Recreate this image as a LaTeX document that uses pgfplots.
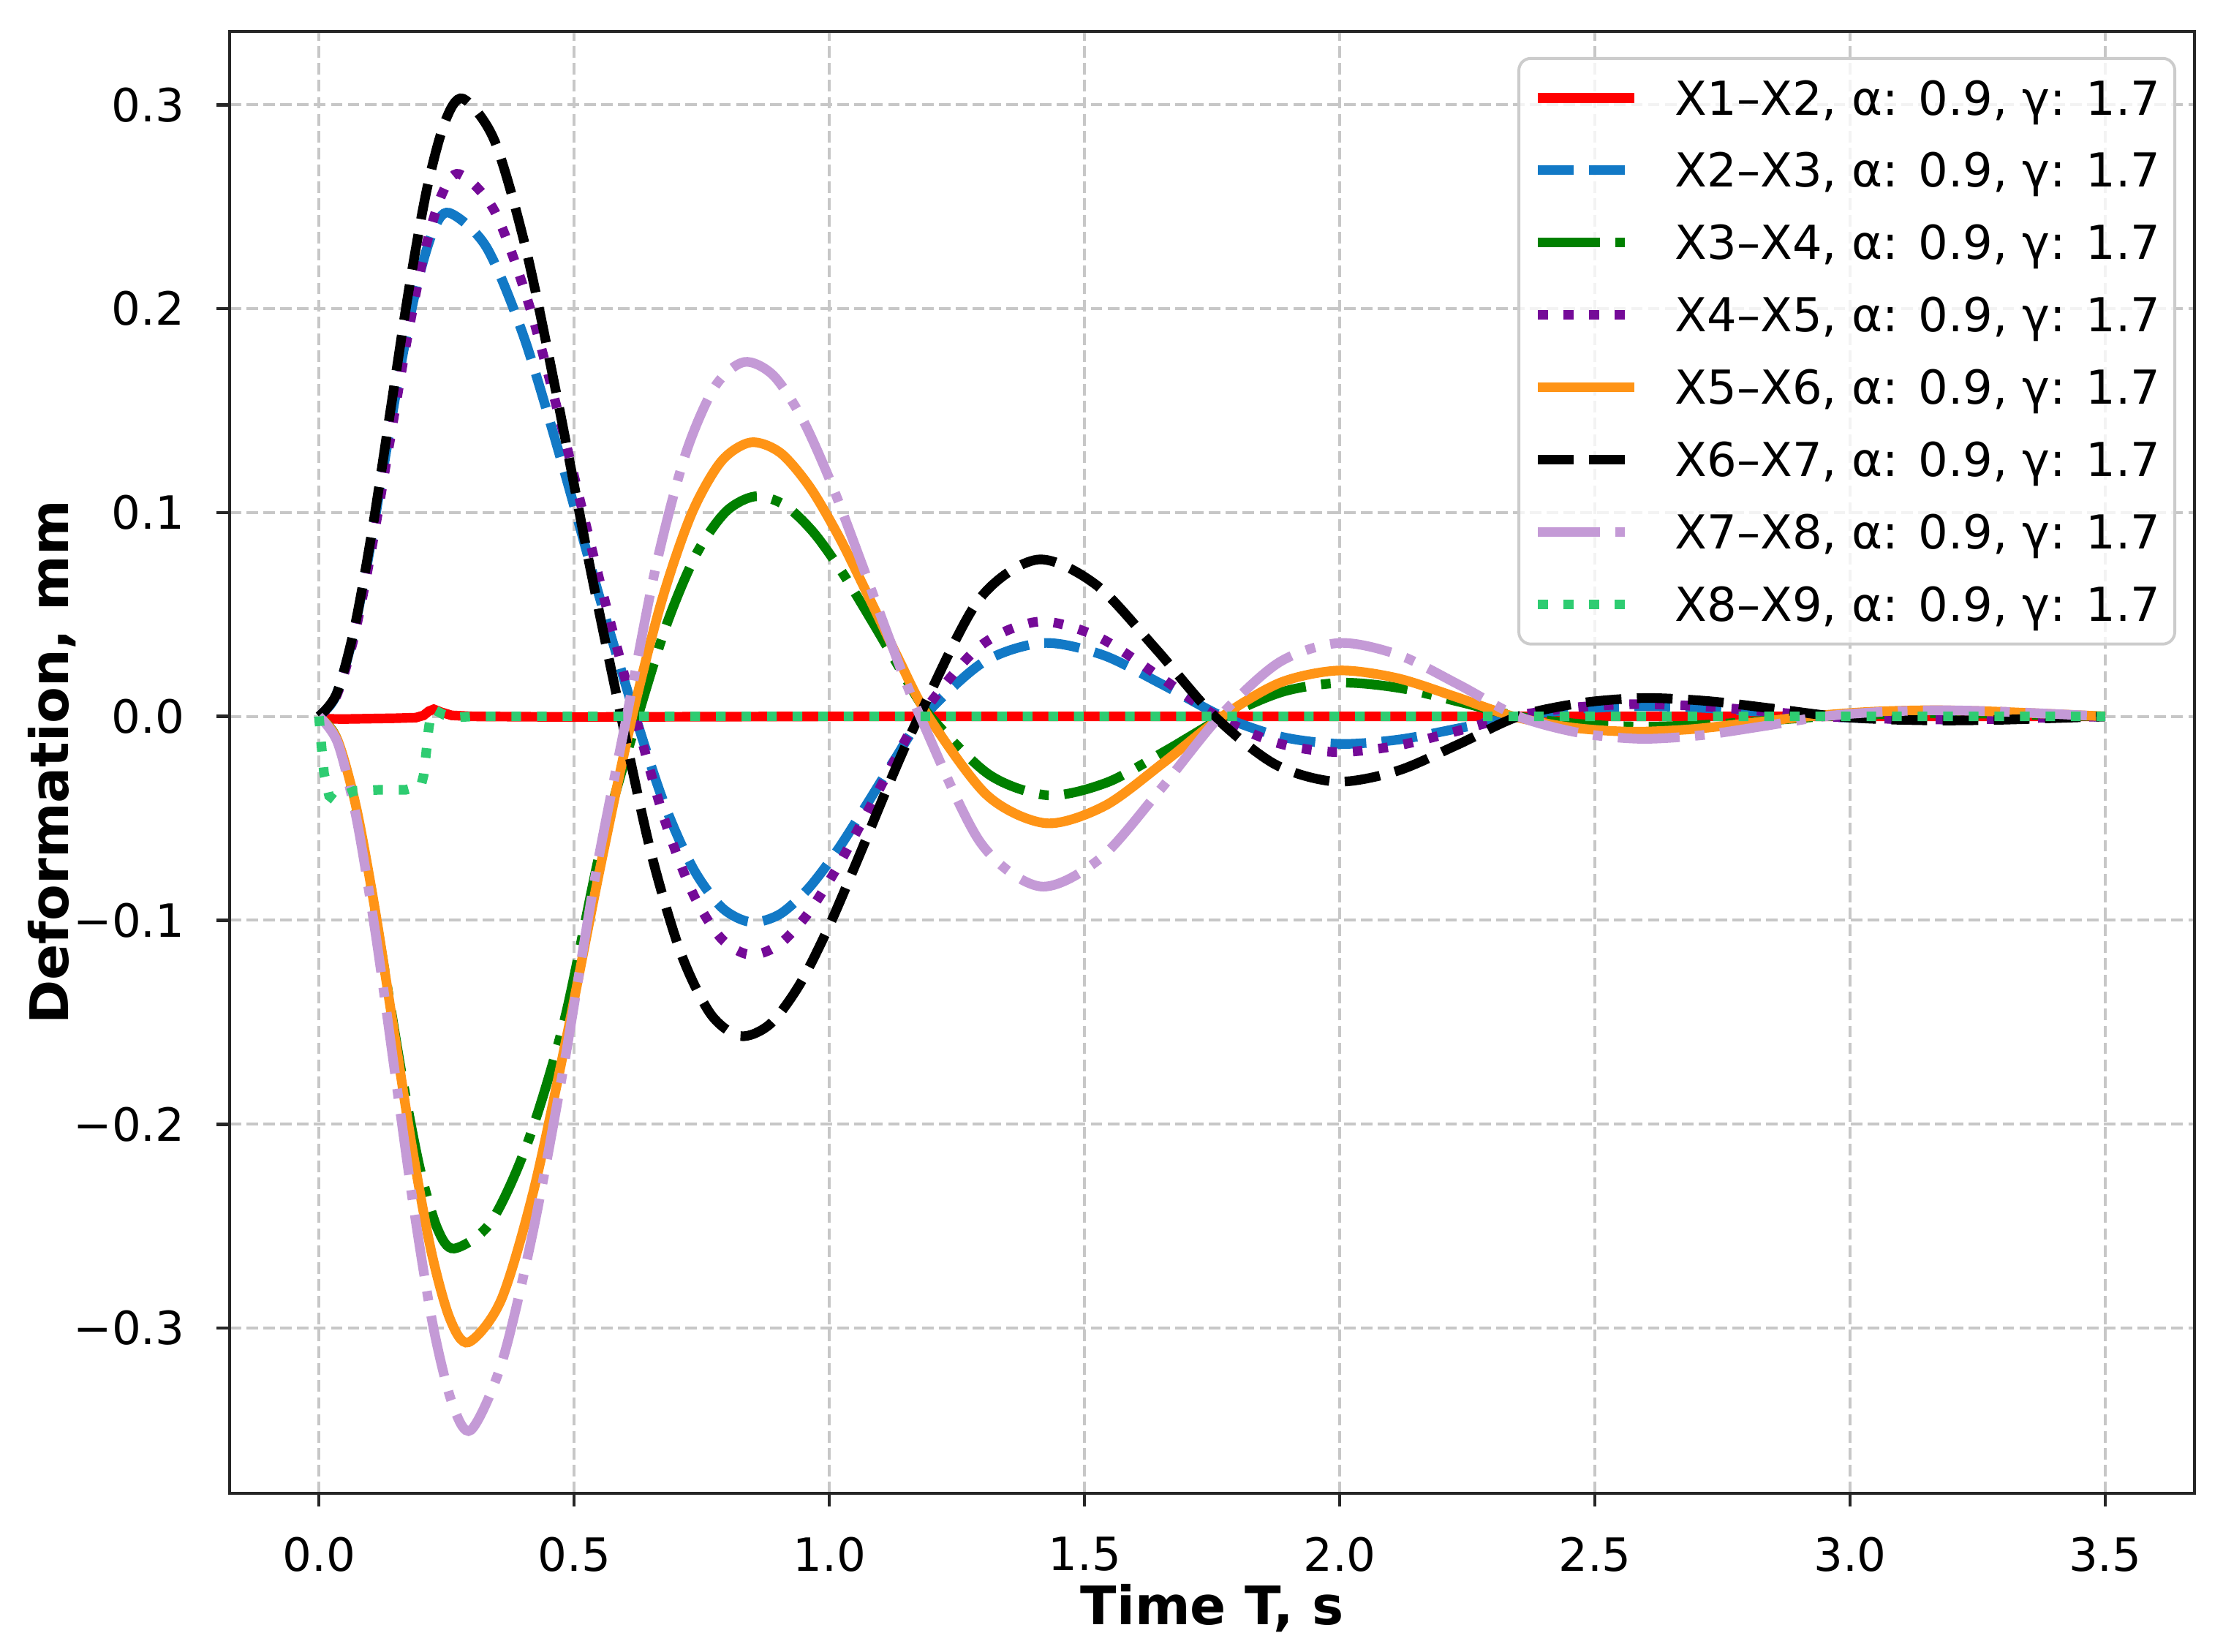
\documentclass[border=0pt]{standalone}
\usepackage{fontspec}
\setmainfont{DejaVu Sans}
\usepackage{pgfplots}
\pgfplotsset{compat=1.18}
\definecolor{cRed}{HTML}{FF0000}
\definecolor{cBlue}{HTML}{1279C6}
\definecolor{cGreen}{HTML}{008000}
\definecolor{cPurple}{HTML}{750A98}
\definecolor{cOrange}{HTML}{FF9416}
\definecolor{cPlum}{HTML}{C49AD6}
\definecolor{cLGreen}{HTML}{2ECC71}
\begin{document}
\begin{tikzpicture}
\useasboundingbox (-47.6pt,-32.9pt) rectangle (413.2pt,309.5pt);
\begin{axis}[
 at={(0pt,0pt)}, anchor=south west,
 scale only axis, width=407.3pt, height=303pt,
 xmin=-0.175, xmax=3.675, ymin=-0.381, ymax=0.336,
 xtick={0,0.5,1,1.5,2,2.5,3,3.5},
 xticklabels={0.0,0.5,1.0,1.5,2.0,2.5,3.0,3.5},
 ytick={-0.3,-0.2,-0.1,0,0.1,0.2,0.3},
 yticklabels={−0.3,−0.2,−0.1,0.0,0.1,0.2,0.3},
 tick pos=left, tick align=outside, major tick length=2.7pt,
 every tick/.style={black!85, line width=0.7pt},
 axis line style={black!85, line width=0.7pt},
 grid=major,
 major grid style={black!22, line width=0.6pt, dash pattern=on 2.4pt off 1.1pt},
 ticklabel style={font=\fontsize{9.5}{11}\selectfont, inner sep=0pt},
 xticklabel style={anchor=north, yshift=-6.2pt},
 yticklabel style={anchor=east, xshift=-6.4pt},
 xlabel={Time T, s}, ylabel={Deformation, mm},
 every axis x label/.style={at={(axis description cs:0.5,-0.0901)}, anchor=base, inner sep=0pt, font=\bfseries\fontsize{11}{13}\selectfont},
 every axis y label/.style={at={(axis description cs:-0.0822,0.5)}, anchor=base, rotate=90, inner sep=0pt, font=\bfseries\fontsize{11}{13}\selectfont},
 legend style={at={(1,1)}, anchor=north east, xshift=-3.8pt, yshift=-5.3pt,
   draw=black!20, line width=0.6pt, rounded corners=2.5pt, fill=white, fill opacity=0.8, text opacity=1,
   inner xsep=3pt, inner ysep=3.5pt, row sep=5.6pt, column sep=7.4pt,
   font=\fontsize{9.7}{11}\selectfont,
   nodes={inner sep=0pt, text height=8.2pt, text depth=1.2pt}},
 legend cell align=left,
 legend image code/.code={\draw[#1, line width=2pt] (0pt,0pt) -- (20pt,0pt);},
]
% X1-X2
\addplot[cRed, line width=2pt] coordinates {
(0,0) (0.01,-0.0012) (0.05,-0.0013) (0.1,-0.0011) (0.15,-0.0009) (0.19,-0.0006) (0.205,0.0005) (0.215,0.0025) (0.225,0.0035) (0.24,0.002) (0.26,0.0005) (0.3,0) (0.5,-0.0003) (1,0) (1.5,0) (2,0) (2.5,0) (3,0) (3.5,0)};
\addlegendentry{X1–X2, α: 0.9, γ: 1.7}
% X2-X3
\addplot[cBlue, line width=2pt, dash pattern=on 7.4pt off 3.2pt, smooth] coordinates {
(0,0) (0.0319,0.0094) (0.0638,0.0362) (0.0956,0.0762) (0.1275,0.1235) (0.1594,0.1708) (0.1913,0.2108) (0.2231,0.2376) (0.255,0.247)
(0.328,0.2302) (0.401,0.1865) (0.474,0.1262) (0.547,0.0609) (0.62,0)
(0.6765,-0.0428) (0.733,-0.0745) (0.7895,-0.0938) (0.846,-0.1009) (0.9025,-0.0971) (0.959,-0.0844) (1.0155,-0.0658) (1.072,-0.0437) (1.1285,-0.021) (1.185,0)
(1.302,0.0266) (1.419,0.036) (1.536,0.0301) (1.653,0.0156) (1.77,0)
(1.886,-0.01) (2.002,-0.0135) (2.118,-0.0113) (2.234,-0.0058) (2.35,0)
(2.47,0.0037) (2.59,0.005) (2.71,0.0042) (2.83,0.0022) (2.95,0)
(3.06,-0.0011) (3.17,-0.0015) (3.28,-0.0013) (3.39,-0.0006) (3.5,0)};
\addlegendentry{X2–X3, α: 0.9, γ: 1.7}
% X3-X4
\addplot[cGreen, line width=2pt, dash pattern=on 12.8pt off 3.2pt on 2pt off 3.2pt, smooth] coordinates {
(0,0) (0.0331,-0.0099) (0.0663,-0.0382) (0.0994,-0.0806) (0.1325,-0.1305) (0.1656,-0.1804) (0.1988,-0.2228) (0.2319,-0.2511) (0.265,-0.261)
(0.337,-0.248) (0.409,-0.209) (0.481,-0.149) (0.553,-0.064) (0.625,0)
(0.6823,0.0458) (0.7396,0.0797) (0.7969,0.1003) (0.8542,0.1079) (0.9115,0.1038) (0.9688,0.0903) (1.0261,0.0703) (1.0834,0.0468) (1.1407,0.0225) (1.198,0)
(1.3134,-0.0286) (1.4288,-0.0387) (1.5442,-0.0324) (1.6596,-0.0168) (1.775,0)
(1.89,0.0122) (2.005,0.0165) (2.12,0.0138) (2.235,0.0071) (2.35,0)
(2.47,-0.0037) (2.59,-0.005) (2.71,-0.0042) (2.83,-0.0022) (2.95,0)
(3.06,0.0011) (3.17,0.0015) (3.28,0.0013) (3.39,0.0006) (3.5,0)};
\addlegendentry{X3–X4, α: 0.9, γ: 1.7}
% X4-X5
\addplot[cPurple, line width=2pt, dash pattern=on 2pt off 3.3pt, smooth] coordinates {
(0,0) (0.0344,0.0101) (0.0688,0.0389) (0.1031,0.0821) (0.1375,0.133) (0.1719,0.1839) (0.2063,0.2271) (0.2406,0.2559) (0.275,0.266)
(0.344,0.2479) (0.413,0.2008) (0.482,0.1359) (0.551,0.0656) (0.62,0)
(0.6758,-0.0496) (0.7316,-0.0863) (0.7874,-0.1087) (0.8432,-0.1169) (0.899,-0.1124) (0.9548,-0.0978) (1.0106,-0.0762) (1.0664,-0.0507) (1.1222,-0.0243) (1.178,0)
(1.2944,0.0343) (1.4108,0.0465) (1.5272,0.0389) (1.6436,0.0201) (1.76,0)
(1.876,-0.0129) (1.992,-0.0175) (2.108,-0.0146) (2.224,-0.0076) (2.34,0)
(2.462,0.0044) (2.584,0.006) (2.706,0.005) (2.828,0.0026) (2.95,0)
(3.06,-0.0011) (3.17,-0.0015) (3.28,-0.0013) (3.39,-0.0006) (3.5,0)};
\addlegendentry{X4–X5, α: 0.9, γ: 1.7}
% X5-X6
\addplot[cOrange, line width=2pt, smooth] coordinates {
(0,0) (0.0366,-0.0117) (0.0733,-0.0449) (0.1099,-0.0948) (0.1465,-0.1535) (0.1831,-0.2122) (0.2198,-0.2621) (0.2564,-0.2953) (0.293,-0.307)
(0.3572,-0.2861) (0.4214,-0.2318) (0.4856,-0.1569) (0.5498,-0.0757) (0.614,0)
(0.672,0.057) (0.73,0.0993) (0.788,0.125) (0.846,0.1344) (0.904,0.1293) (0.962,0.1124) (1.02,0.0876) (1.078,0.0582) (1.136,0.028) (1.194,0)
(1.3092,-0.0387) (1.4244,-0.0524) (1.5396,-0.0439) (1.6548,-0.0227) (1.77,0)
(1.884,0.0166) (1.998,0.0225) (2.112,0.0188) (2.226,0.0097) (2.34,0)
(2.456,-0.0055) (2.572,-0.0075) (2.688,-0.0063) (2.804,-0.0032) (2.92,0)
(3.036,0.0022) (3.152,0.003) (3.268,0.0025) (3.384,0.0013) (3.5,0)};
\addlegendentry{X5–X6, α: 0.9, γ: 1.7}
% X6-X7
\addplot[black, line width=2pt, dash pattern=on 7.4pt off 3.2pt, smooth] coordinates {
(0,0) (0.0353,0.0115) (0.0705,0.0444) (0.1058,0.0935) (0.141,0.1515) (0.1763,0.2095) (0.2115,0.2586) (0.2468,0.2915) (0.282,0.303)
(0.344,0.2824) (0.406,0.2288) (0.468,0.1548) (0.53,0.0747) (0.592,0)
(0.6504,-0.0666) (0.7088,-0.1159) (0.7672,-0.1459) (0.8256,-0.1568) (0.884,-0.1509) (0.9424,-0.1313) (1.0008,-0.1022) (1.0592,-0.068) (1.1176,-0.0327) (1.176,0)
(1.2918,0.0568) (1.4076,0.0769) (1.5234,0.0644) (1.6392,0.0333) (1.755,0)
(1.874,-0.0236) (1.993,-0.032) (2.112,-0.0268) (2.231,-0.0139) (2.35,0)
(2.474,0.0066) (2.598,0.009) (2.722,0.0075) (2.846,0.0039) (2.97,0)
(3.076,-0.0015) (3.182,-0.002) (3.288,-0.0017) (3.394,-0.0009) (3.5,0)};
\addlegendentry{X6–X7, α: 0.9, γ: 1.7}
% X7-X8
\addplot[cPlum, line width=2pt, dash pattern=on 12.8pt off 3.2pt on 2pt off 3.2pt, smooth] coordinates {
(0,0) (0.0373,-0.0133) (0.0745,-0.0512) (0.1118,-0.108) (0.149,-0.175) (0.1863,-0.242) (0.2235,-0.2988) (0.2608,-0.3367) (0.298,-0.35)
(0.359,-0.3164) (0.42,-0.252) (0.481,-0.1698) (0.542,-0.0777) (0.603,0)
(0.6605,0.0738) (0.718,0.1284) (0.7755,0.1616) (0.833,0.1738) (0.8905,0.1672) (0.948,0.1455) (1.0055,0.1133) (1.063,0.0753) (1.1205,0.0362) (1.178,0)
(1.2954,-0.0616) (1.4128,-0.0834) (1.5302,-0.0698) (1.6476,-0.0362) (1.765,0)
(1.882,0.0266) (1.999,0.036) (2.116,0.0301) (2.233,0.0156) (2.35,0)
(2.47,-0.0081) (2.59,-0.011) (2.71,-0.0092) (2.83,-0.0048) (2.95,0)
(3.06,0.0022) (3.17,0.003) (3.28,0.0025) (3.39,0.0013) (3.5,0)};
\addlegendentry{X7–X8, α: 0.9, γ: 1.7}
% X8-X9
\addplot[cLGreen, line width=2pt, dash pattern=on 2pt off 3.3pt] coordinates {
(0,0) (0.004,-0.012) (0.01,-0.028) (0.02,-0.039) (0.03,-0.041) (0.045,-0.039) (0.07,-0.0365) (0.12,-0.036) (0.17,-0.036) (0.2,-0.034) (0.205,-0.029) (0.21,-0.018) (0.215,-0.006) (0.22,0.002) (0.228,0.003) (0.245,0.0008) (0.27,-0.0005) (0.3,0) (1,0) (2,0) (3,0) (3.5,0)};
\addlegendentry{X8–X9, α: 0.9, γ: 1.7}
\end{axis}
\end{tikzpicture}
\end{document}
